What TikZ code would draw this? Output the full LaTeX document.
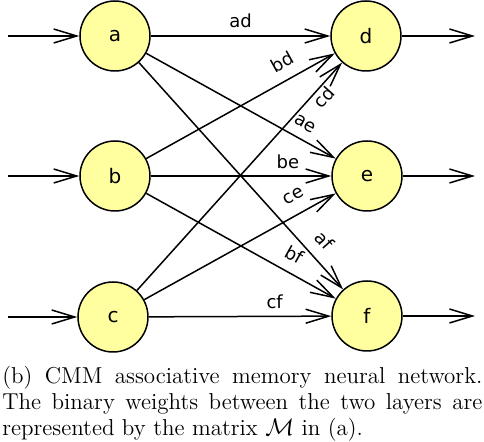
\documentclass[tikz,border=0pt]{standalone}
\usepackage{fontspec}
\newfontfamily\etichette{DejaVu Sans}
\usetikzlibrary{arrows.meta,positioning}
\definecolor{giallino}{RGB}{255,255,160}
\tikzset{
  neurone/.style={draw,circle,fill=giallino,line width=0.75pt,minimum size=35pt,inner sep=0pt,font=\etichette\fontsize{10}{10}\selectfont},
  peso/.style={line width=0.75pt,-{Straight Barb[length=11.5pt,width=7pt]}},
  etic/.style={font=\etichette\fontsize{9}{9}\selectfont,inner sep=1pt,sloped},
  riga/.style={anchor=base west,inner sep=0pt,font=\fontsize{11.5}{13}\selectfont}
}
\newcommand{\rigapiena}[1]{\hbox to 240pt{\spaceskip=0.333em plus 1em minus 0.1em #1}}
\begin{document}
\begin{tikzpicture}[x=0.5pt,y=-0.5pt]
% Definisci le variabili
\def\xin{8}    % Inizio delle frecce di ingresso
\def\xout{475} % Fine delle frecce di uscita
\useasboundingbox (0,0) rectangle (484,442);

% Neuroni dei due strati
\node[neurone] (a) at (115,36) {a};
\node[neurone] (b) at (115,176) {b};
\node[neurone] (c) at (113,317) {c};
\node[neurone] (d) at (366,36) {d};
\node[neurone] (e) at (367,176) {e};
\node[neurone] (f) at (367,316) {f};

% Frecce di ingresso e di uscita
\foreach \i/\y in {a/36,b/176,c/317} {
    \coordinate (in\i) at (\xin,\y);
    \draw[peso] (in\i) -- (\i);
}
\foreach \i/\y in {d/36,e/176,f/316} {
    \coordinate (out\i) at (\xout,\y);
    \draw[peso] (\i) -- (out\i);
}

% Pesi binari tra i due strati
\draw[peso] (a) -- node[etic,above=2.6pt] {ad} (d);
\draw[peso] (a) -- node[etic,pos=0.80,above=3.8pt] {ae} (e);
\draw[peso] (a) -- node[etic,pos=0.84,above=4.8pt] {af} (f);
\draw[peso] (b) -- node[etic,pos=0.77,above=4.3pt] {bd} (d);
\draw[peso] (b) -- node[etic,pos=0.76,above=2pt] {be} (e);
\draw[peso] (b) -- node[etic,pos=0.735,above=4.2pt] {bf} (f);
\draw[peso] (c) -- node[etic,pos=0.875,below=0pt] {cd} (d);
\draw[peso] (c) -- node[etic,pos=0.825,above=5.3pt] {ce} (e);
\draw[peso] (c) -- node[etic,pos=0.69,above=2.6pt] {cf} (f);

% Didascalia, una riga per nodo
\node[riga] (riga1) at (2,384) {\rigapiena{(b) CMM associative memory neural network.}};
\node[riga] (riga2) at (2,410) {\rigapiena{The binary weights between the two layers are}};
\node[riga] (riga3) at (2,436) {represented by the matrix $\mathcal{M}$ in (a).};
\end{tikzpicture}
\end{document}
